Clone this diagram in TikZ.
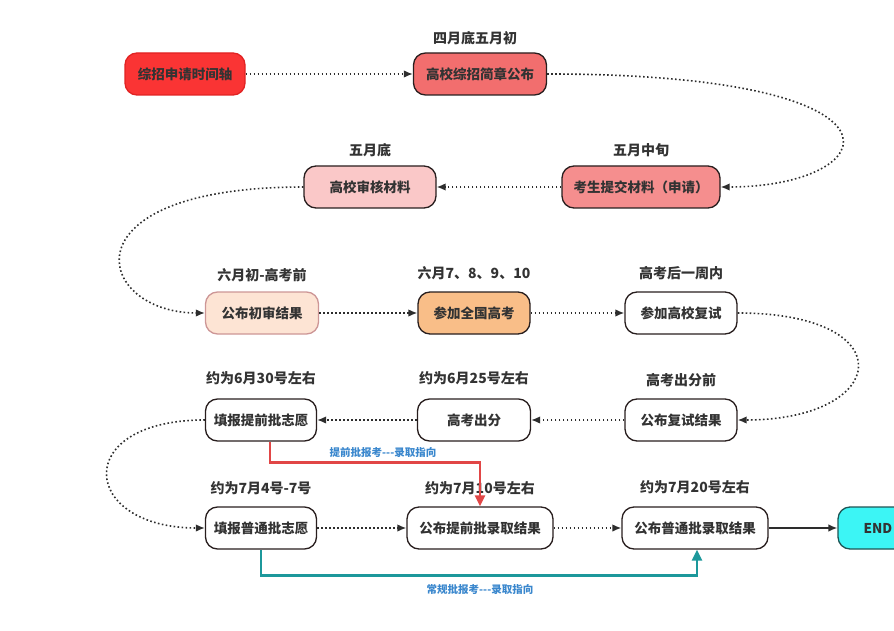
\documentclass[tikz,border=0pt]{standalone}
\usepackage{fontspec}
\setmainfont{Noto Sans CJK SC}
\usetikzlibrary{arrows.meta}
\usepackage{xcolor}
\definecolor{textgray}{RGB}{51,51,51}
\definecolor{linedark}{RGB}{40,30,30}
\definecolor{flowgray}{RGB}{45,45,45}
\definecolor{redhead}{RGB}{250,52,52}
\definecolor{redborder}{RGB}{225,35,35}
\definecolor{salmon}{RGB}{242,110,110}
\definecolor{rose}{RGB}{245,142,142}
\definecolor{blush}{RGB}{250,200,200}
\definecolor{peach}{RGB}{253,228,212}
\definecolor{peachborder}{RGB}{205,150,150}
\definecolor{apricot}{RGB}{249,190,136}
\definecolor{endcyan}{RGB}{60,245,245}
\definecolor{endteal}{RGB}{30,85,85}
\definecolor{redguide}{RGB}{225,70,70}
\definecolor{tealguide}{RGB}{28,152,155}
\definecolor{guideblue}{RGB}{58,135,205}

\begin{document}
\begin{tikzpicture}[x=1pt, y=-1pt,
        stage/.style={rectangle, draw=linedark, fill=white, line width=1.3pt, rounded corners=12pt, minimum height=42pt, inner sep=3pt, font=\bfseries\fontsize{13.5}{15}\selectfont, text=textgray},
        when/.style={font=\bfseries\fontsize{14}{16}\selectfont, text=textgray},
        flow/.style={line width=1.6pt, draw=flowgray, dash pattern=on 1.6pt off 2.4pt, -{Latex[length=9pt, width=7.5pt]}},
        guide/.style={font=\bfseries\fontsize{10.5}{12}\selectfont, text=guideblue}
    ]
        \useasboundingbox (0,0) rectangle (894,631);
        \clip (0,0) rectangle (894,631);

        % row 1
        \node[stage, fill=redhead, draw=redborder, minimum width=120pt] (axis) at (185,74) {综招申请时间轴};
        \node[stage, fill=salmon, minimum width=133pt] (brochure) at (480,74) {高校综招简章公布};
        \node[when] (tBrochure) at (475,38) {四月底五月初};

        % row 2
        \node[stage, fill=rose, minimum width=158pt] (submit) at (641,187) {考生提交材料（申请）};
        \node[when] (tSubmit) at (641,150) {五月中旬};
        \node[stage, fill=blush, minimum width=132pt] (review) at (370,187) {高校审核材料};
        \node[when] (tReview) at (370,150) {五月底};

        % row 3
        \node[stage, fill=peach, draw=peachborder, minimum width=113pt] (prelim) at (262,313) {公布初审结果};
        \node[when] (tPrelim) at (262,275) {六月初-高考前};
        \node[stage, fill=apricot, minimum width=112pt] (gaokao) at (474,313) {参加全国高考};
        \node[when] (tGaokao) at (474,273) {六月7、8、9、10};
        \node[stage, minimum width=112pt] (retest) at (681,313) {参加高校复试};
        \node[when] (tRetest) at (681,273) {高考后一周内};

        % row 4
        \node[stage, minimum width=112pt] (retestres) at (681,420) {公布复试结果};
        \node[when] (tRetestres) at (681,380) {高考出分前};
        \node[stage, minimum width=113pt] (score) at (474,420) {高考出分};
        \node[when] (tScore) at (474,378) {约为6月25号左右};
        \node[stage, minimum width=111pt] (early) at (261,420) {填报提前批志愿};
        \node[when] (tEarly) at (261,378) {约为6月30号左右};

        % row 5
        \node[stage, minimum width=111pt] (normal) at (261,528) {填报普通批志愿};
        \node[when] (tNormal) at (261,488) {约为7月4号-7号};
        \node[stage, minimum width=146pt] (earlyres) at (480,528) {公布提前批录取结果};
        \node[when] (tEarlyres) at (480,488) {约为7月10号左右};
        \node[stage, minimum width=146pt] (normalres) at (695,528) {公布普通批录取结果};
        \node[when] (tNormalres) at (695,487) {约为7月20号左右};
        \node[stage, fill=endcyan, draw=endteal, minimum width=80pt] (finish) at (878,528) {END};

        % timeline
        \draw[flow] (axis) -- (brochure);
        \draw[flow] (brochure.east) .. controls (930,74) and (885,187) .. (submit.east);
        \draw[flow] (submit) -- (review);
        \draw[flow] (review.west) .. controls (60,187) and (95,313) .. (prelim.west);
        \draw[flow] (prelim) -- (gaokao);
        \draw[flow] (gaokao) -- (retest);
        \draw[flow] (retest.east) .. controls (905,313) and (890,420) .. (retestres.east);
        \draw[flow] (retestres) -- (score);
        \draw[flow] (score) -- (early);
        \draw[flow] (early.west) .. controls (70,420) and (80,528) .. (normal.west);
        \draw[flow] (normal) -- (earlyres);
        \draw[flow] (earlyres) -- (normalres);
        \draw[line width=1.4pt, draw=flowgray, -{Latex[length=9pt, width=7.5pt]}] (normalres) -- (finish);

        % admission guides
        \draw[line width=2.6pt, draw=redguide, -{Triangle[length=11pt, width=10pt]}] ([xshift=9pt]early.south) -- ++(0,21) -| (earlyres.north);
        \node[guide] (redtag) at (383,453) {提前批报考-{}-{}-录取指向};
        \draw[line width=2.6pt, draw=tealguide, -{Triangle[length=11pt, width=10pt]}] (normal.south) -- ++(0,26) -| ([xshift=2pt]normalres.south);
        \node[guide] (tealtag) at (480,590) {常规批报考-{}-{}-录取指向};
    \end{tikzpicture}
\end{document}
